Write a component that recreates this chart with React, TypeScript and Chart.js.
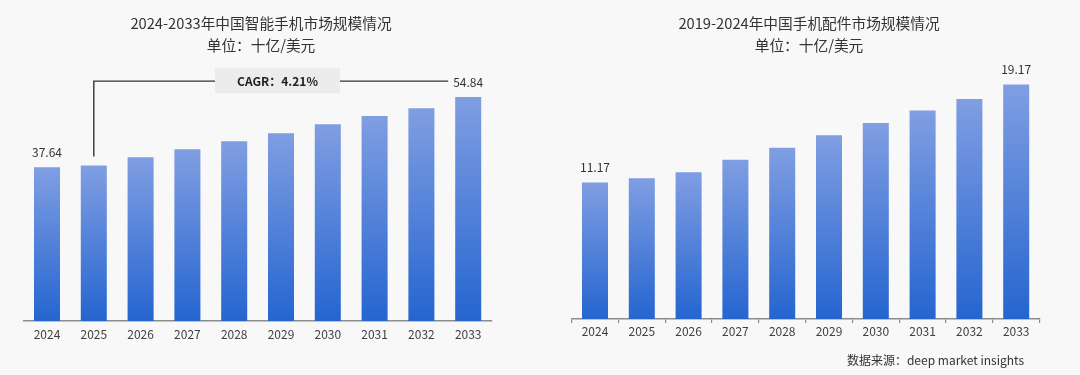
import React, { useEffect, useRef } from 'react';
import { Chart, registerables } from 'chart.js';

Chart.register(...registerables);

const leftYears = ['2024', '2025', '2026', '2027', '2028', '2029', '2030', '2031', '2032', '2033'];
const leftValues = [37.64, 38.1, 40.1, 42.05, 44.0, 46.0, 48.2, 50.2, 52.1, 54.84];
const rightYears = ['2024', '2025', '2026', '2027', '2028', '2029', '2030', '2031', '2032', '2033'];
const rightValues = [11.17, 11.52, 12.01, 13.03, 14.01, 15.02, 16.03, 17.05, 18.0, 19.17];
const leftTitle = '2024-2033年中国智能手机市场规模情况';
const rightTitle = '2019-2024年中国手机配件市场规模情况';
const unitText = '单位：十亿/美元';
const cagrText = 'CAGR：4.21%';
const sourceText = '数据来源：deep market insights';
const labeledIndices = [0, 9];

const FONT = '"Noto Sans CJK SC", "Noto Sans", sans-serif';
const TEXT = '#333333';

function barGradient(context: any) {
  const chart = context.chart;
  const { chartArea, scales } = chart;
  if (!chartArea) return '#5a82dc';
  const v = context.raw as number;
  const top = scales.y.getPixelForValue(v);
  const bottom = scales.y.getPixelForValue(0);
  const g = chart.ctx.createLinearGradient(0, top, 0, bottom);
  g.addColorStop(0, '#809ee2');
  g.addColorStop(1, '#2565d0');
  return g;
}

function makeTextPlugin(title: string, cx: number, withCagr: boolean, withSource: boolean) {
  return {
    id: 'texts',
    afterDatasetsDraw(chart: any) {
      const ctx = chart.ctx;
      ctx.save();
      ctx.fillStyle = TEXT;
      ctx.textAlign = 'center';
      ctx.textBaseline = 'middle';
      ctx.font = `14.7px ${FONT}`;
      ctx.fillText(title, cx, 23);
      ctx.fillText(unitText, cx, 45);

      const meta = chart.getDatasetMeta(0);
      ctx.font = `12px ${FONT}`;
      labeledIndices.forEach((i) => {
        const bar = meta.data[i] as any;
        const val = chart.data.datasets[0].data[i] as number;
        ctx.fillText(val.toFixed(2), bar.x, bar.y - 15);
      });

      if (withCagr) {
        const b1 = meta.data[1] as any;
        const bl = meta.data[meta.data.length - 1] as any;
        const lineY = bl.y - 16;
        const boxL = 215;
        const boxR = 340;
        ctx.strokeStyle = '#333333';
        ctx.lineWidth = 1.4;
        ctx.beginPath();
        ctx.moveTo(b1.x, b1.y - 9);
        ctx.lineTo(b1.x, lineY);
        ctx.lineTo(boxL, lineY);
        ctx.moveTo(boxR, lineY);
        ctx.lineTo(bl.x - 20, lineY);
        ctx.stroke();
        ctx.fillStyle = '#ececec';
        ctx.fillRect(boxL, lineY - 13, boxR - boxL, 25);
        ctx.fillStyle = '#222222';
        ctx.font = `bold 12px ${FONT}`;
        ctx.fillText(cagrText, (boxL + boxR) / 2, lineY);
      }

      if (withSource) {
        ctx.fillStyle = TEXT;
        ctx.font = `12px ${FONT}`;
        ctx.textAlign = 'right';
        ctx.fillText(sourceText, 484, 360);
      }
      ctx.restore();
    },
  };
}

function makeChart(
  canvas: HTMLCanvasElement,
  labels: string[],
  values: number[],
  yMax: number,
  padding: any,
  ticksOn: boolean,
  tickPad: number,
  plugin: any
) {
  return new Chart(canvas, {
    type: 'bar',
    data: {
      labels,
      datasets: [
        {
          data: values,
          backgroundColor: barGradient,
          borderWidth: 0,
          barPercentage: 0.556,
          categoryPercentage: 1,
        },
      ],
    },
    options: {
      responsive: false,
      animation: false,
      devicePixelRatio: 1,
      layout: { padding },
      plugins: { legend: { display: false }, tooltip: { enabled: false }, title: { display: false } },
      scales: {
        x: {
          grid: {
            display: true,
            drawOnChartArea: false,
            drawTicks: ticksOn,
            tickLength: 4,
            color: '#8c8c8c',
            lineWidth: 1.2,
          },
          border: { display: true, color: '#8c8c8c', width: 1.5 },
          ticks: { color: '#404040', font: { size: 12, family: FONT }, padding: tickPad, maxRotation: 0 },
        },
        y: { display: false, min: 0, max: yMax },
      },
    },
    plugins: [plugin],
  });
}

export default function App() {
  const leftRef = useRef<HTMLCanvasElement>(null);
  const rightRef = useRef<HTMLCanvasElement>(null);

  useEffect(() => {
    const c1 = makeChart(
      leftRef.current!,
      leftYears,
      leftValues,
      64,
      { left: 23.6, right: 48.4, top: 59.7, bottom: 27.6 },
      false,
      6,
      makeTextPlugin(leftTitle, 261, true, false)
    );
    const c2 = makeChart(
      rightRef.current!,
      rightYears,
      rightValues,
      21.2,
      { left: 31.6, right: 40.4, top: 59.8, bottom: 35.6 },
      true,
      1,
      makeTextPlugin(rightTitle, 269, false, true)
    );
    return () => {
      c1.destroy();
      c2.destroy();
    };
  }, []);

  return (
    <div
      style={{
        position: 'fixed',
        left: 0,
        top: 0,
        width: 1080,
        height: 375,
        background: '#f8f8f8',
        overflow: 'hidden',
      }}
    >
      <canvas ref={leftRef} width={540} height={375} style={{ position: 'absolute', left: 0, top: 0 }} />
      <canvas ref={rightRef} width={540} height={375} style={{ position: 'absolute', left: 540, top: 0 }} />
    </div>
  );
}
